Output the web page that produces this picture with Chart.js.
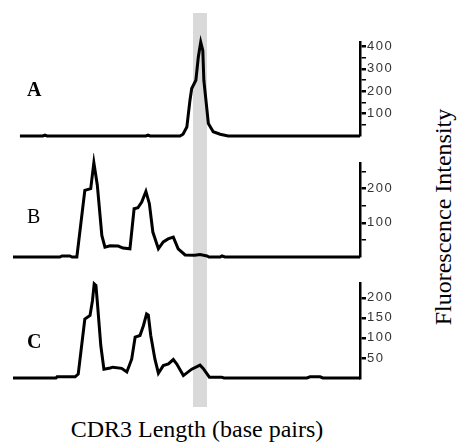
<!DOCTYPE html>
<html>
<head>
<meta charset="utf-8">
<script src="https://cdn.jsdelivr.net/npm/chart.js@4.4.1/dist/chart.umd.min.js"></script>
<style>
  body { margin: 0; background: #fff; }
  #page { position: relative; width: 457px; height: 444px; overflow: hidden; }
  .panel { position: absolute; left: 0; width: 420px; }
  .tag { position: absolute; font-family: "Liberation Serif", serif; font-size: 20px; color: #000; }
  #band { position: absolute; top: 13px; height: 394px; background: #d9d9d9; }
  #xtitle { position: absolute; left: 0; width: 394px; top: 416px; text-align: center;
            font-family: "Liberation Serif", serif; font-size: 24px; }
  #ytitle { position: absolute; left: 443px; top: 217px; white-space: nowrap;
            font-family: "Liberation Serif", serif; font-size: 24px;
            transform: translate(-50%, -50%) rotate(-90deg); }
</style>
</head>
<body>
<div id="page">
  <div id="band"></div>
  <div class="panel" id="wrapA" style="top:32px;height:114px"><canvas id="chartA"></canvas></div>
  <div class="panel" id="wrapB" style="top:153px;height:114px"><canvas id="chartB"></canvas></div>
  <div class="panel" id="wrapC" style="top:273px;height:115px"><canvas id="chartC"></canvas></div>
  <div class="tag" style="left:27px;top:78px;font-weight:bold">A</div>
  <div class="tag" style="left:27px;top:205px">B</div>
  <div class="tag" style="left:27px;top:330px;font-weight:bold">C</div>
  <div id="xtitle">CDR3 Length (base pairs)</div>
  <div id="ytitle">Fluorescence Intensity</div>
</div>
<script>
// scan position (arbitrary units, 0-100) and fluorescence for each sample
const posA = [2, 8.6, 9.2, 9.8, 38.3, 38.9, 39.5, 48.1, 49.0, 50.1, 51.0, 51.5, 52.7, 53.4, 54.1, 54.7, 55.0, 55.6, 56.3, 57.7, 59.7, 62.0, 100];
const valA = [0, 0, 4, 0, 0, 4, 0, 0, 8, 40, 160, 212, 249, 352, 419, 382, 249, 160, 56, 19, 8, 0, 0];

const posB = [0, 13.5, 14.1, 16.4, 17.0, 18.4, 20.7, 22.4, 23.3, 24.3, 25.6, 26.5, 28.0, 30.3, 31.7, 33.7, 34.9, 36.0, 37.1, 38.3, 39.3, 40.3, 41.9, 43.3, 44.7, 46.2, 47.6, 49.6, 52.4, 53.9, 55.9, 56.5, 59.7, 60.2, 61.1, 100];
const valB = [0, 0, 3, 3, 0, 0, 195, 200, 276, 210, 63, 29, 33, 32, 26, 24, 141, 144, 161, 192, 156, 73, 24, 44, 53, 58, 24, 6, 5, 7, 3, 0, 0, 3, 0, 0];

const posC = [0, 12.4, 12.7, 17.9, 18.8, 20.7, 22.2, 22.9, 23.4, 23.9, 24.3, 25.3, 26.2, 28.0, 28.8, 31.3, 32.8, 34.2, 35.2, 36.6, 37.6, 38.5, 39.0, 39.7, 40.9, 41.9, 43.3, 44.8, 46.2, 47.2, 49.1, 51.5, 53.9, 54.8, 56.6, 60.1, 60.8, 84.7, 85.6, 88.5, 89.3, 100];
const valC = [0, 0, 3, 3, 10, 147, 156, 193, 235, 231, 190, 81, 22, 25, 27, 24, 15, 47, 102, 106, 131, 160, 157, 106, 47, 12, 31, 35, 46, 35, 6, 22, 32, 24, 2, 2, 0, 0, 3, 3, 0, 0];

// shaded region (same position units)
const bandRange = [51.9, 55.9];

// y axis: top value, tick step, label step
const axisA = [420, 50, 100];
const axisB = [275, 50, 100];
const axisC = [237, 50, 50];

// letter-spaced tick labels, like the original figure
const spacing = {
    id: 'spacing',
    beforeDraw(chart) { chart.ctx.letterSpacing = '1.5px'; }
};

function makePanel(id, pos, val, axis) {
    const [top, step, labelStep] = axis;
    return new Chart(document.getElementById(id), {
        type: 'line',
        data: {
            datasets: [{
                data: pos.map((p, i) => ({ x: p, y: val[i] })),
                borderColor: '#000',
                borderWidth: 3,
                pointRadius: 0,
                tension: 0,
                clip: false
            }]
        },
        options: {
            responsive: true,
            maintainAspectRatio: false,
            animation: false,
            layout: { padding: { left: 13, top: 10, bottom: 10, right: 0 } },
            plugins: { legend: { display: false }, tooltip: { enabled: false } },
            scales: {
                x: { type: 'linear', min: 0, max: 100, display: false },
                y: {
                    position: 'right',
                    min: 0,
                    max: top,
                    afterFit(scale) { scale.width = 60; },
                    afterBuildTicks(scale) {
                        scale.ticks = [];
                        for (let v = step; v <= top; v += step) scale.ticks.push({ value: v });
                    },
                    border: { display: true, color: '#000', width: 2.5 },
                    grid: {
                        drawOnChartArea: false,
                        drawTicks: true,
                        tickLength: 6,
                        color: '#000',
                        lineWidth: ctx => (ctx.tick && ctx.tick.value % labelStep === 0 ? 2.5 : 1.5)
                    },
                    ticks: {
                        autoSkip: false,
                        maxRotation: 0,
                        padding: 1,
                        color: '#333',
                        font: { family: 'Liberation Sans', size: 13 },
                        callback: v => (v % labelStep === 0 ? v : '')
                    }
                }
            }
        },
        plugins: [spacing]
    });
}

const chartA = makePanel('chartA', posA, valA, axisA);
makePanel('chartB', posB, valB, axisB);
makePanel('chartC', posC, valC, axisC);

// place the shaded band using panel A's x scale
const band = document.getElementById('band');
const x0 = chartA.scales.x.getPixelForValue(bandRange[0]);
const x1 = chartA.scales.x.getPixelForValue(bandRange[1]);
band.style.left = x0 + 'px';
band.style.width = (x1 - x0) + 'px';
</script>
</body>
</html>
